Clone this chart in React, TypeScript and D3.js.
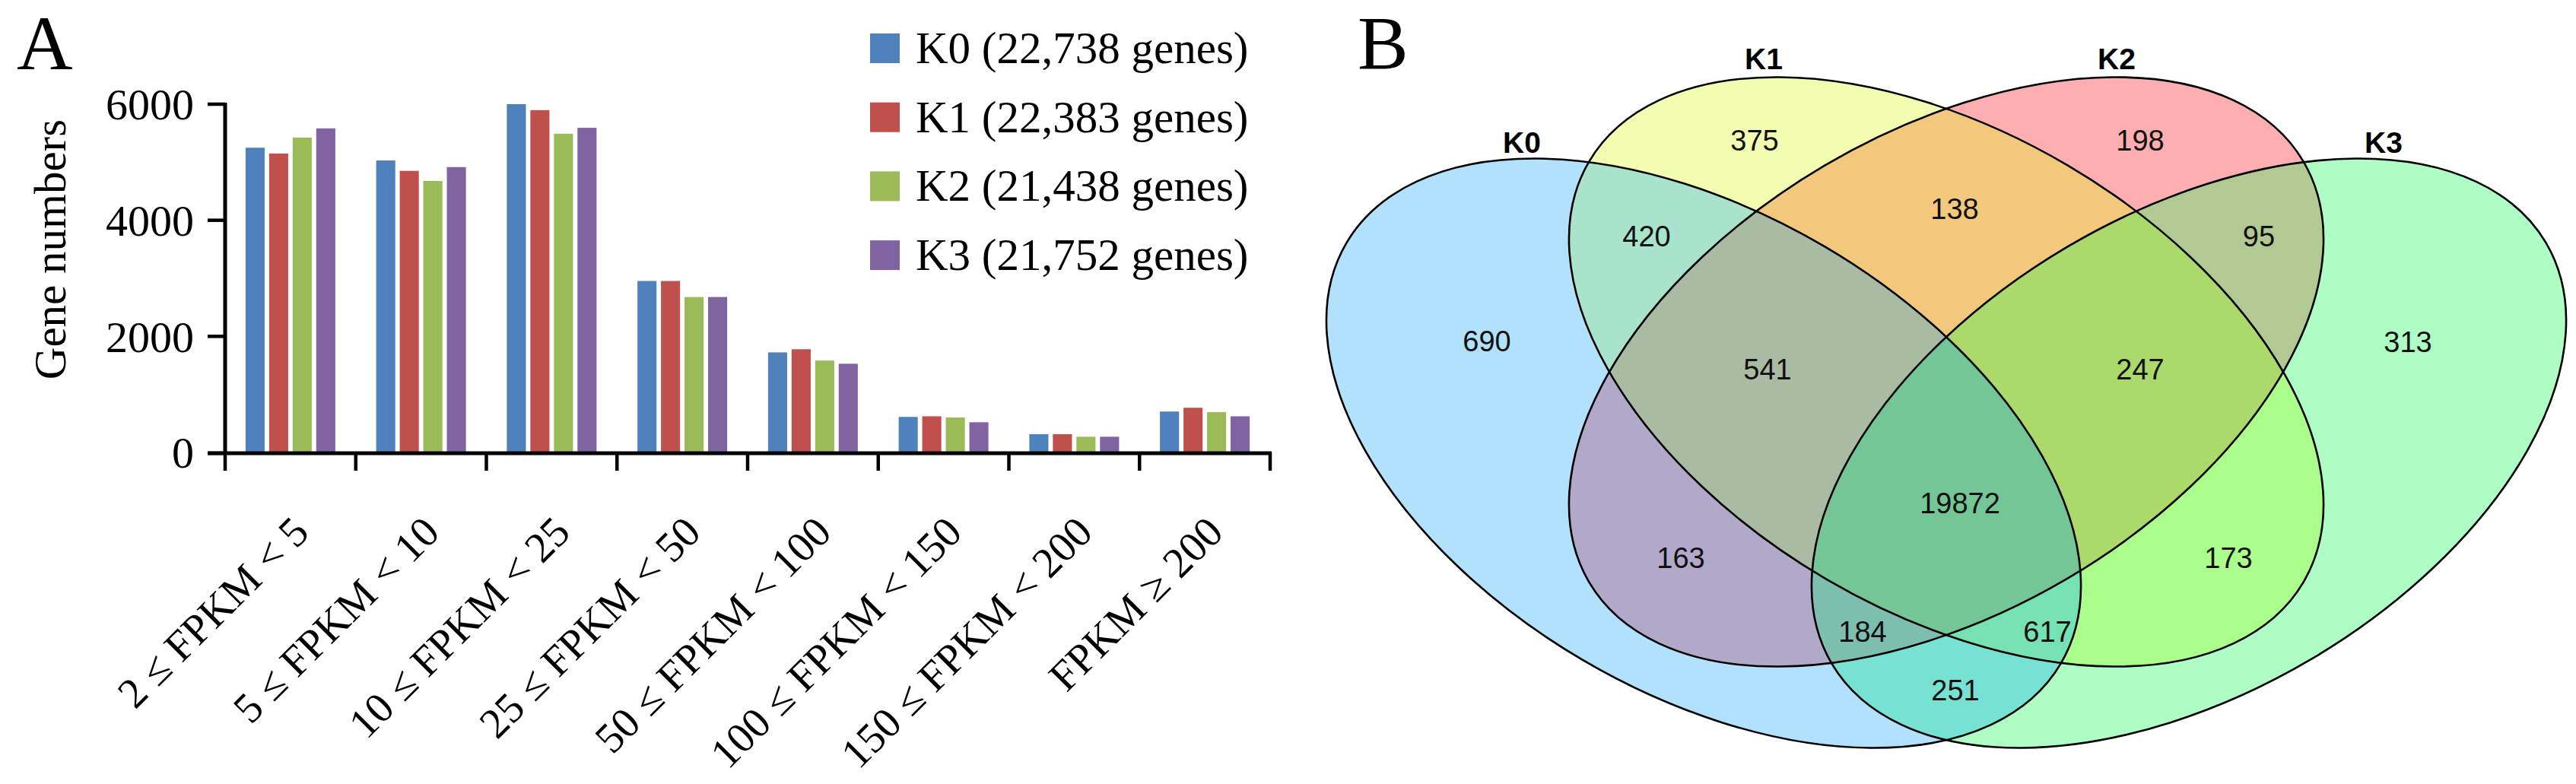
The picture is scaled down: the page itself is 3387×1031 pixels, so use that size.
import React from "react";
import * as d3 from "d3";

// ---- Panel A data ----
const categories = [
  "2 ≤ FPKM < 5",
  "5 ≤ FPKM < 10",
  "10 ≤ FPKM < 25",
  "25 ≤ FPKM < 50",
  "50 ≤ FPKM < 100",
  "100 ≤ FPKM < 150",
  "150 ≤ FPKM < 200",
  "FPKM ≥ 200",
];
const seriesNames = ["K0", "K1", "K2", "K3"];
const geneTotals = ["22,738", "22,383", "21,438", "21,752"];
const k0Values = [5250, 5030, 6000, 2954, 1724, 612, 314, 705];
const k1Values = [5150, 4851, 5897, 2954, 1778, 623, 314, 770];
const k2Values = [5425, 4678, 5491, 2678, 1583, 602, 271, 694];
const k3Values = [5583, 4916, 5593, 2678, 1528, 520, 271, 623];
const yTicks = [0, 2000, 4000, 6000];

// ---- Panel B data ----
const vennSets = ["K0", "K1", "K2", "K3"];
const regionKeys = ["0", "1", "2", "3", "01", "12", "23", "012", "123", "0123", "02", "13", "023", "013", "03"];
const regionCounts = [690, 375, 198, 313, 420, 138, 95, 541, 247, 19872, 163, 173, 184, 617, 251];

// ---- styles / layout ----
const W = 3387;
const H = 1031;
const serif = "'Liberation Serif', 'Times New Roman', serif";
const sans = "'Liberation Sans', Arial, sans-serif";
const barColors = ["#4F81BD", "#C0504D", "#9BBB59", "#8064A2"];

const regionFill: Record<string, string> = {
  "0": "#B1E1FC",
  "1": "#F2FDB2",
  "2": "#FDAEB0",
  "3": "#AEFDC5",
  "01": "#AAE3CC",
  "12": "#F2C87C",
  "23": "#B3C994",
  "012": "#AABBA3",
  "123": "#ABD96B",
  "0123": "#75C697",
  "02": "#B2A9CA",
  "13": "#ABFD8C",
  "023": "#7EBEAF",
  "013": "#76E1B3",
  "03": "#77E1D3",
};

// venn geometry in unit space (centre of the diagram = 0,0)
const ellipseGeom = [
  { cx: -0.319, cy: 0.107, rx: 0.545, ry: 0.315, rot: 30.5 },
  { cx: 0, cy: 0, rx: 0.545, ry: 0.315, rot: 30.5 },
  { cx: 0, cy: 0, rx: 0.545, ry: 0.315, rot: -30.5 },
  { cx: 0.319, cy: 0.107, rx: 0.545, ry: 0.315, rot: -30.5 },
];
const regionLabelPos: Record<string, [number, number]> = {
  "0": [-0.604, -0.041],
  "1": [-0.252, -0.305],
  "2": [0.255, -0.305],
  "3": [0.607, -0.04],
  "01": [-0.394, -0.179],
  "12": [0.011, -0.215],
  "23": [0.411, -0.179],
  "012": [-0.235, -0.004],
  "123": [0.255, -0.004],
  "0123": [0.018, 0.1725],
  "02": [-0.349, 0.244],
  "13": [0.371, 0.244],
  "023": [-0.11, 0.341],
  "013": [0.133, 0.341],
  "03": [0.012, 0.418],
};
const setLabelPos: [number, number][] = [
  [-0.558, -0.288],
  [-0.24, -0.398],
  [0.224, -0.398],
  [0.575, -0.288],
];

const BarPanel: React.FC = () => {
  const seriesValues = [k0Values, k1Values, k2Values, k3Values];
  const x0 = d3.scaleBand<string>().domain(categories).range([296, 1670]).padding(0);
  const x1 = d3.scaleBand<string>().domain(seriesNames).range([-59, 59]).paddingInner(0.19);
  const y = d3.scaleLinear().domain([0, 6000]).range([595, 137]);
  const step = x0.step();

  return (
    <g>
      <text x={22} y={91} fontFamily={serif} fontSize={102}>A</text>

      {categories.map((c, ci) => {
        const cx = (x0(c) as number) + x0.bandwidth() / 2;
        return (
          <g key={c} transform={`translate(${cx},0)`}>
            {seriesNames.map((s, si) => (
              <rect
                key={s}
                x={x1(s)}
                y={y(seriesValues[si][ci])}
                width={x1.bandwidth()}
                height={y(0) - y(seriesValues[si][ci])}
                fill={barColors[si]}
              />
            ))}
          </g>
        );
      })}

      {/* axes */}
      <line x1={296} x2={296} y1={y(6000) - 2} y2={y(0) + 3} stroke="#000" strokeWidth={5} />
      <line x1={273} x2={1672} y1={y(0) + 1} y2={y(0) + 1} stroke="#000" strokeWidth={5} />
      {yTicks.map((t) => (
        <g key={t}>
          <line x1={273} x2={296} y1={y(t) + (t === 0 ? 1 : 0)} y2={y(t) + (t === 0 ? 1 : 0)} stroke="#000" strokeWidth={4.5} />
          <text x={255} y={y(t)} dy="0.35em" textAnchor="end" fontFamily={serif} fontSize={58}>
            {t}
          </text>
        </g>
      ))}
      {d3.range(categories.length + 1).map((i) => (
        <line key={i} x1={296 + i * step} x2={296 + i * step} y1={y(0)} y2={619} stroke="#000" strokeWidth={4.5} />
      ))}

      {categories.map((c) => {
        const px = (x0(c) as number) + x0.bandwidth() / 2 + 27;
        return (
          <text
            key={c}
            transform={`translate(${px},703) rotate(-45)`}
            textAnchor="end"
            fontFamily={serif}
            fontSize={56}
          >
            {c}
          </text>
        );
      })}

      <text
        transform="translate(86,328) rotate(-90)"
        textAnchor="middle"
        fontFamily={serif}
        fontSize={59}
      >
        Gene numbers
      </text>

      {/* legend */}
      {seriesNames.map((s, i) => (
        <g key={s} transform={`translate(1144,${44 + i * 90.7})`}>
          <rect x={0} y={0} width={39} height={39} fill={barColors[i]} />
          <text x={60} y={39} fontFamily={serif} fontSize={59}>
            {`${s} (${geneTotals[i]} genes)`}
          </text>
        </g>
      ))}
    </g>
  );
};

const VennPanel: React.FC = () => {
  const vx = d3.scaleLinear().domain([0, 1]).range([2559, 3559]);
  const vy = d3.scaleLinear().domain([0, 1]).range([489, 1489]);
  const vr = d3.scaleLinear().domain([0, 1]).range([0, 1000]);

  const ell = (k: number, props: React.SVGProps<SVGEllipseElement>) => {
    const g = ellipseGeom[k];
    const cx = vx(g.cx);
    const cy = vy(g.cy);
    return (
      <ellipse
        cx={cx}
        cy={cy}
        rx={vr(g.rx)}
        ry={vr(g.ry)}
        transform={`rotate(${g.rot},${cx},${cy})`}
        {...props}
      />
    );
  };

  const region = (key: string) => {
    const members = key.split("").map(Number);
    let node: React.ReactNode = <rect x={1650} y={0} width={W - 1650} height={H} fill={regionFill[key]} />;
    for (let k = 0; k < 4; k++) {
      node = members.includes(k) ? (
        <g clipPath={`url(#vclip${k})`}>{node}</g>
      ) : (
        <g mask={`url(#vmask${k})`}>{node}</g>
      );
    }
    return <g key={key}>{node}</g>;
  };

  return (
    <g>
      <defs>
        {vennSets.map((s, k) => (
          <clipPath key={`c${s}`} id={`vclip${k}`}>
            {ell(k, {})}
          </clipPath>
        ))}
        {vennSets.map((s, k) => (
          <mask key={`m${s}`} id={`vmask${k}`} maskUnits="userSpaceOnUse" x={0} y={0} width={W} height={H}>
            <rect x={0} y={0} width={W} height={H} fill="#fff" />
            {ell(k, { fill: "#000" })}
          </mask>
        ))}
      </defs>

      <text x={1785} y={90} fontFamily={serif} fontSize={100}>B</text>

      {regionKeys.map((k) => region(k))}

      {vennSets.map((s, k) => (
        <g key={s}>{ell(k, { fill: "none", stroke: "#000", strokeWidth: 2.6 })}</g>
      ))}

      {regionKeys.map((k, i) => (
        <text
          key={k}
          x={vx(regionLabelPos[k][0])}
          y={vy(regionLabelPos[k][1])}
          dy="0.36em"
          textAnchor="middle"
          fontFamily={sans}
          fontSize={38}
          fill="#111"
        >
          {regionCounts[i]}
        </text>
      ))}

      {vennSets.map((s, k) => (
        <text
          key={s}
          x={vx(setLabelPos[k][0])}
          y={vy(setLabelPos[k][1])}
          textAnchor="middle"
          fontFamily={sans}
          fontWeight="bold"
          fontSize={39}
        >
          {s}
        </text>
      ))}
    </g>
  );
};

export default function App() {
  return (
    <svg
      width={W}
      height={H}
      viewBox={`0 0 ${W} ${H}`}
      style={{ position: "absolute", left: 0, top: 0, background: "#fff" }}
    >
      <rect x={0} y={0} width={W} height={H} fill="#fff" />
      <BarPanel />
      <VennPanel />
    </svg>
  );
}
